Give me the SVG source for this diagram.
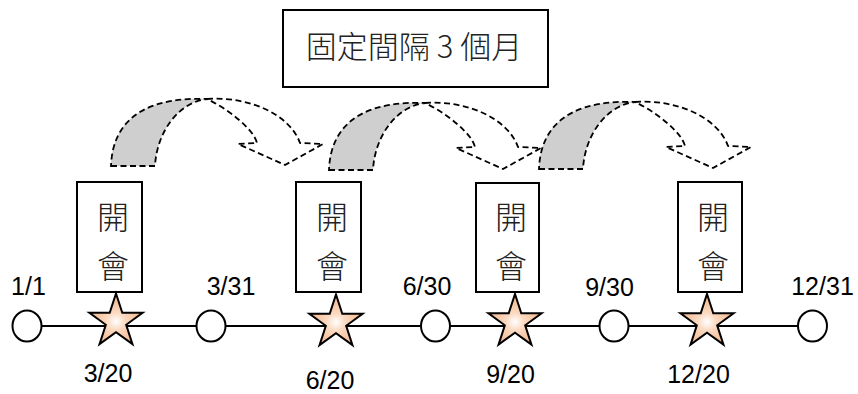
<svg xmlns="http://www.w3.org/2000/svg" width="858" height="394" viewBox="0 0 858 394">
<defs>
<radialGradient id="sg" cx="0.5" cy="0.55" r="0.5">
<stop offset="0" stop-color="#ffffff"/>
<stop offset="0.35" stop-color="#fbd9c0"/>
<stop offset="1" stop-color="#f4b68c"/>
</radialGradient>
<g id="arrow">
<path class="shade" d="M111,166 L155,166 C157,130 180,102 207,99 C160,97 113,110 111,166 Z"/>
<path class="open" d="M207,99 C250,96 290,115 300,143 L323,144 L285,165 L238,144 L257,143 C254,130 230,110 207,99 Z"/>
</g>
<polygon id="star" points="0,-28 6.29,-8.66 26.63,-8.65 10.18,3.31 16.46,22.65 0,10.7 -16.46,22.65 -10.18,3.31 -26.63,-8.65 -6.29,-8.66"/>
</defs>
<style>
.shade{fill:#cfcfcf;stroke:#000;stroke-width:1.8;stroke-dasharray:6,3.5}
.open{fill:none;stroke:#000;stroke-width:1.8;stroke-dasharray:6,3.5;stroke-linejoin:miter}
.box{fill:#fff;stroke:#000;stroke-width:2}
.cjk{font-family:"Noto Sans CJK TC","Noto Sans CJK SC",sans-serif;font-weight:300;fill:#222;text-anchor:middle}
.lbl{font-family:"Liberation Sans",Arial,sans-serif;font-size:25px;fill:#000;text-anchor:middle}
.node{fill:#fff;stroke:#000;stroke-width:2}
.star{fill:url(#sg);stroke:#000;stroke-width:2}
.line{stroke:#000;stroke-width:2;fill:none}
</style>
<rect width="858" height="394" fill="#fff"/>

<g id="title">
<rect class="box" x="283" y="10" width="265" height="77"/>
<text class="cjk" x="414" y="58" font-size="31">固定間隔 3 個月</text>
</g>

<g id="connectors">
<use href="#arrow"/>
<use href="#arrow" transform="translate(218,4)"/>
<use href="#arrow" transform="translate(428,3)"/>
<line class="line" x1="41" y1="326" x2="798" y2="326"/>
</g>

<g id="meet1">
<rect class="box" x="77" y="182" width="65" height="110"/>
<text class="cjk" x="113" y="229" font-size="32">開</text>
<text class="cjk" x="113" y="278" font-size="32">會</text>
</g>
<g id="meet2">
<rect class="box" x="296" y="182" width="65" height="110"/>
<text class="cjk" x="332" y="229" font-size="32">開</text>
<text class="cjk" x="332" y="278" font-size="32">會</text>
</g>
<g id="meet3">
<rect class="box" x="476" y="183" width="63" height="109"/>
<text class="cjk" x="511" y="229" font-size="32">開</text>
<text class="cjk" x="511" y="278" font-size="32">會</text>
</g>
<g id="meet4">
<rect class="box" x="678" y="182" width="64" height="110"/>
<text class="cjk" x="713" y="229" font-size="32">開</text>
<text class="cjk" x="713" y="278" font-size="32">會</text>
</g>

<g id="d0101">
<ellipse class="node" cx="27" cy="326" rx="14.5" ry="15.5"/>
<text class="lbl" x="28.5" y="295">1/1</text>
</g>
<g id="d0331">
<ellipse class="node" cx="211" cy="326" rx="14.5" ry="15.5"/>
<text class="lbl" x="231" y="295">3/31</text>
</g>
<g id="d0630">
<ellipse class="node" cx="435.5" cy="326" rx="14.5" ry="15.5"/>
<text class="lbl" x="427" y="295">6/30</text>
</g>
<g id="d0930">
<ellipse class="node" cx="614" cy="326" rx="14.5" ry="15.5"/>
<text class="lbl" x="609.5" y="296">9/30</text>
</g>
<g id="d1231">
<ellipse class="node" cx="812.5" cy="326" rx="14.5" ry="15.5"/>
<text class="lbl" x="822.5" y="295">12/31</text>
</g>

<g id="s0320">
<use href="#star" class="star" transform="translate(116,321.5)"/>
<text class="lbl" x="108" y="382">3/20</text>
</g>
<g id="s0620">
<use href="#star" class="star" transform="translate(336,322.5)"/>
<text class="lbl" x="330" y="389">6/20</text>
</g>
<g id="s0920">
<use href="#star" class="star" transform="translate(515,322)"/>
<text class="lbl" x="510.5" y="383">9/20</text>
</g>
<g id="s1220">
<use href="#star" class="star" transform="translate(707,322)"/>
<text class="lbl" x="698.5" y="383">12/20</text>
</g>
</svg>
